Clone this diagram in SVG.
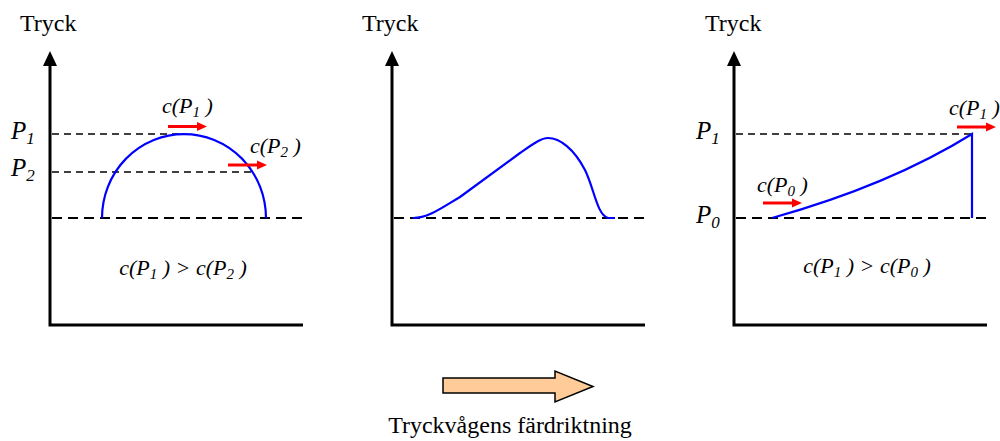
<svg xmlns="http://www.w3.org/2000/svg" width="1000" height="441" viewBox="0 0 1000 441" font-family="'Liberation Serif', 'DejaVu Serif', serif">
<defs>
<style>
.ax{stroke:#000;stroke-width:3;fill:none}
.ah{fill:#000}
.dl{stroke:#000;stroke-width:1.3;stroke-dasharray:7 5;fill:none}
.db{stroke:#000;stroke-width:2;stroke-dasharray:10 6;fill:none}
.cv{stroke:#0000FF;stroke-width:2.2;fill:none}
.ra{stroke:#FF0000;stroke-width:3;fill:none}
.rh{fill:#FF0000}
.t{font-size:24px;fill:#000}
.m{font-style:italic;font-size:22px;fill:#000}
.p{font-style:italic;font-size:25px;fill:#000}
</style>
</defs>
<g id="panel1">
<text class="t" x="20" y="31" font-family="Liberation Serif, serif">Tryck</text>
<path class="ax" d="M50,62 V325 H303"/>
<polygon class="ah" points="50,51 43,66 57,66"/>
<path class="dl" d="M52,134 H184"/>
<path class="dl" d="M52,172 H252"/>
<path class="db" d="M52,218 H303"/>
<path class="cv" d="M102,218 A82,84 0 0 1 266,218"/>
<text class="p" x="11" y="139" font-family="Liberation Serif, serif">P<tspan font-size="17" dy="5">1</tspan></text>
<text class="p" x="11" y="176" font-family="Liberation Serif, serif">P<tspan font-size="17" dy="5">2</tspan></text>
<text class="m" x="162" y="113" font-family="Liberation Serif, serif">c(P<tspan font-size="15" dy="4">1</tspan><tspan dy="-4"> )</tspan></text>
<path class="ra" d="M168,126.5 H198"/>
<polygon class="rh" points="207,126.5 197,122 197,131"/>
<text class="m" x="250" y="153" font-family="Liberation Serif, serif">c(P<tspan font-size="15" dy="4">2</tspan><tspan dy="-4"> )</tspan></text>
<path class="ra" d="M228,165 H258"/>
<polygon class="rh" points="267,165 257,160.5 257,169.5"/>
<text class="m" x="183" y="275" text-anchor="middle" font-family="Liberation Serif, serif">c(P<tspan font-size="15" dy="4">1</tspan><tspan dy="-4"> ) &gt; c(P</tspan><tspan font-size="15" dy="4">2</tspan><tspan dy="-4"> )</tspan></text>
</g>
<g id="panel2">
<text class="t" x="362" y="31" font-family="Liberation Serif, serif">Tryck</text>
<path class="ax" d="M392,62 V325 H645"/>
<polygon class="ah" points="392,51 385,66 399,66"/>
<path class="db" d="M394,218 H645"/>
<path class="cv" d="M413,218 C428,218 440,209 460,197 L520,153 C533,144 541,138 548,138 C560,138 574,149 585,170 C594,188 597,215 608,218 L615,218"/>
</g>
<g id="panel3">
<text class="t" x="705" y="31" font-family="Liberation Serif, serif">Tryck</text>
<path class="ax" d="M734,62 V325 H987"/>
<polygon class="ah" points="734,51 727,66 741,66"/>
<path class="dl" d="M736,134 H972"/>
<path class="db" d="M736,218 H987"/>
<path class="cv" d="M772,218 Q890,185 972,134 V218"/>
<text class="p" x="696" y="139" font-family="Liberation Serif, serif">P<tspan font-size="17" dy="5">1</tspan></text>
<text class="p" x="696" y="223" font-family="Liberation Serif, serif">P<tspan font-size="17" dy="5">0</tspan></text>
<text class="m" x="949" y="115" font-family="Liberation Serif, serif">c(P<tspan font-size="15" dy="4">1</tspan><tspan dy="-4"> )</tspan></text>
<path class="ra" d="M957,127 H987"/>
<polygon class="rh" points="996,127 986,122.5 986,131.5"/>
<text class="m" x="757" y="192" font-family="Liberation Serif, serif">c(P<tspan font-size="15" dy="4">0</tspan><tspan dy="-4"> )</tspan></text>
<path class="ra" d="M763,203 H793"/>
<polygon class="rh" points="802,203 792,198.5 792,207.5"/>
<text class="m" x="867" y="273" text-anchor="middle" font-family="Liberation Serif, serif">c(P<tspan font-size="15" dy="4">1</tspan><tspan dy="-4"> ) &gt; c(P</tspan><tspan font-size="15" dy="4">0</tspan><tspan dy="-4"> )</tspan></text>
</g>
<g id="direction">
<polygon points="443,378 555,378 555,371 593,386.5 555,402 555,393 443,393" fill="#FFCC99" stroke="#000" stroke-width="1.5"/>
<text class="t" x="510" y="433" text-anchor="middle" font-family="Liberation Serif, serif">Tryckvågens färdriktning</text>
</g>
<g id="connectors"></g>
</svg>
